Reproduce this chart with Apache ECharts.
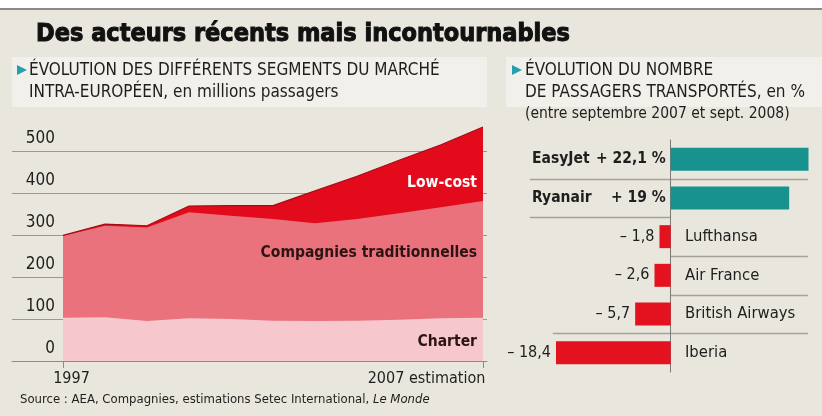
<!DOCTYPE html>
<html>
<head>
<meta charset="utf-8">
<script src="https://cdn.jsdelivr.net/npm/echarts@6/dist/echarts.min.js"></script>
<style>
  html, body { margin: 0; padding: 0; background: #e9e7dd; }
  #chart { width: 822px; height: 416px; }
</style>
</head>
<body>
<div id="chart"></div>
<script>
// left panel : intra-european market, millions of passengers
var years = [1997, 1998, 1999, 2000, 2001, 2002, 2003, 2004, 2005, 2006, 2007];
var charter = [103, 104, 95, 102, 100, 96, 95, 96, 98, 102, 103];
var traditionnelles = [195, 218, 223, 252, 246, 242, 233, 242, 254, 264, 278];
var lowCost = [1, 4, 4, 15, 24, 32, 77, 102, 126, 149, 176];
var segmentNames = ['Charter', 'Compagnies traditionnelles', 'Low-cost'];
var xTickYears = [1997, 2007];
var xTickLabels = ['1997', '2007 estimation'];

// right panel : change in passengers carried, sept 2007 -> sept 2008, %
var airlines = ['EasyJet', 'Ryanair', 'Lufthansa', 'Air France', 'British Airways', 'Iberia'];
var growth = [22.1, 19, -1.8, -2.6, -5.7, -18.4];

var FONT = '"DejaVu Sans Condensed", "Liberation Sans Narrow", "Liberation Sans", sans-serif';
var INK = '#1e1e1e';

function fmt(v) {
    return String(Math.abs(v)).replace('.', ',');
}

var chart = echarts.init(document.getElementById('chart'));

// layers are drawn as cumulative tops, back to front (total first)
var segData = [charter, traditionnelles, lowCost];
var tops = [];
segData.forEach(function (arr, k) {
    tops.push(arr.map(function (v, i) { return (k ? tops[k - 1][i] : 0) + v; }));
});
var areaColors = ['#f6c8ce', '#e9727c', '#e30a1c'];

var series = [2, 1, 0].map(function (k) {
    return {
        name: segmentNames[k],
        type: 'line',
        xAxisIndex: 0,
        yAxisIndex: 0,
        data: tops[k].map(function (v, i) { return [years[i], v]; }),
        symbol: 'none',
        clip: false,
        lineStyle: k === 2 ? { width: 1.2, color: '#a40c16' } : { width: 0 },
        areaStyle: { color: areaColors[k], opacity: 1 }
    };
});

series.push({
    type: 'bar',
    xAxisIndex: 1,
    yAxisIndex: 1,
    data: growth,
    barWidth: 23,
    itemStyle: {
        color: function (p) { return p.value > 0 ? '#17928e' : '#e3121e'; }
    },
    label: {
        show: true,
        position: 'left',
        distance: 5,
        fontFamily: FONT,
        fontSize: 16,
        color: INK,
        formatter: function (p) {
            return p.value > 0 ? '{p|+ ' + fmt(p.value) + ' %}' : '– ' + fmt(p.value);
        },
        rich: { p: { fontFamily: FONT, fontSize: 15.5, fontWeight: 'bold', color: INK } }
    }
});

var option = {
    backgroundColor: '#e9e7dd',
    animation: false,
    grid: [
        { left: 12, top: 151, width: 475, height: 210 },
        { left: 546, top: 140, width: 265, height: 232 }
    ],
    xAxis: [
        {
            gridIndex: 0, type: 'value', min: 1995.7857, max: 2007.0952,
            splitLine: { show: false },
            axisLine: { show: true, lineStyle: { color: '#8d8b85', width: 1 } },
            axisTick: { show: true, customValues: xTickYears, length: 7, lineStyle: { color: '#8d8b85' } },
            axisLabel: {
                customValues: xTickYears,
                margin: 10,
                formatter: function (v) {
                    return v === xTickYears[0] ? '{a|' + xTickLabels[0] + '}' : '{b|' + xTickLabels[1] + '}';
                },
                rich: {
                    a: { fontFamily: FONT, fontSize: 16, color: INK, padding: [0, 0, 0, 17] },
                    b: { fontFamily: FONT, fontSize: 16, color: INK, padding: [0, 113, 0, 0] }
                }
            }
        },
        { gridIndex: 1, type: 'value', min: -20, max: 22.5, show: false }
    ],
    yAxis: [
        {
            gridIndex: 0, type: 'value', min: 0, max: 500, interval: 100,
            axisLine: { show: false },
            axisTick: { show: false },
            splitLine: { lineStyle: { color: '#9a9891', width: 1 } },
            axisLabel: {
                inside: true, margin: 43, align: 'right', verticalAlign: 'bottom',
                lineHeight: 25,
                fontFamily: FONT, fontSize: 17, color: INK
            }
        },
        {
            gridIndex: 1, type: 'category', inverse: true, data: airlines,
            axisLine: { show: true, onZero: true, lineStyle: { color: '#7b7a75' } },
            axisTick: { show: false },
            axisLabel: {
                margin: 14, align: 'left', fontFamily: FONT, fontSize: 15.5, fontWeight: 'bold', color: INK,
                formatter: function (name, i) { return growth[i] > 0 ? name : ''; }
            }
        },
        {
            gridIndex: 1, type: 'category', inverse: true, data: airlines, position: 'left',
            axisLine: { show: false, onZero: false },
            axisTick: { show: false },
            axisLabel: {
                inside: true, margin: 139, align: 'left', fontFamily: FONT, fontSize: 16.5, color: INK,
                formatter: function (name, i) { return growth[i] < 0 ? name : ''; }
            }
        }
    ],
    series: series
};

chart.setOption(option);

// static decoration
var teal = '#2a9db0';
var graphic = [
    { type: 'rect', z: -1, shape: { x: 0, y: 0, width: 822, height: 8 }, style: { fill: '#ffffff' } },
    { type: 'rect', z: -1, shape: { x: 0, y: 8, width: 822, height: 2 }, style: { fill: '#8a8a8a' } },
    { type: 'rect', z: -1, shape: { x: 12, y: 57, width: 475, height: 50 }, style: { fill: '#f2f0ea' } },
    { type: 'rect', z: -1, shape: { x: 506, y: 57, width: 316, height: 50 }, style: { fill: '#f2f0ea' } },
    { type: 'text', x: 36, y: 34, style: {
        text: 'Des acteurs récents mais incontournables',
        font: 'bold 25px "DejaVu Sans Condensed", "Liberation Sans", sans-serif',
        fill: '#111', stroke: '#111', lineWidth: 1, verticalAlign: 'middle'
    } },
    { type: 'polygon', shape: { points: [[17, 65], [27, 70], [17, 75]] }, style: { fill: teal } },
    { type: 'polygon', shape: { points: [[512, 65], [522, 70], [512, 75]] }, style: { fill: teal } },
    { type: 'text', x: 29, y: 71, style: { text: 'ÉVOLUTION DES DIFFÉRENTS SEGMENTS DU MARCHÉ', font: '17px ' + FONT, fill: INK, verticalAlign: 'middle' } },
    { type: 'text', x: 29, y: 93, style: { text: 'INTRA-EUROPÉEN, en millions passagers', font: '17px ' + FONT, fill: INK, verticalAlign: 'middle' } },
    { type: 'text', x: 525, y: 71, style: { text: 'ÉVOLUTION DU NOMBRE', font: '17px ' + FONT, fill: INK, verticalAlign: 'middle' } },
    { type: 'text', x: 525, y: 93, style: { text: 'DE PASSAGERS TRANSPORTÉS, en %', font: '17px ' + FONT, fill: INK, verticalAlign: 'middle' } },
    { type: 'text', x: 525, y: 114, style: { text: '(entre septembre 2007 et sept. 2008)', font: '15.5px ' + FONT, fill: INK, verticalAlign: 'middle' } },
    { type: 'text', x: 20, y: 400, style: {
        text: '{n|Source : AEA, Compagnies, estimations Setec International, }{i|Le Monde}',
        verticalAlign: 'middle',
        rich: {
            n: { font: '13px ' + FONT, fill: INK },
            i: { font: 'italic 13px ' + FONT, fill: INK }
        }
    } }
];

// segment names, anchored to the last point of each layer top
var labelDy = [24, 52, 56];
var labelColor = ['#2a1414', '#2a1414', '#ffffff'];
segData.forEach(function (arr, k) {
    var last = tops[k][tops[k].length - 1];
    var p = chart.convertToPixel({ xAxisIndex: 0, yAxisIndex: 0 }, [years[years.length - 1], last]);
    graphic.push({
        type: 'text', z: 100, x: p[0] - 6, y: p[1] + labelDy[k],
        style: { text: segmentNames[k], font: 'bold 15.5px ' + FONT, fill: labelColor[k], align: 'right', verticalAlign: 'middle' }
    });
});

// row separators in the right panel (partial, on the label side)
var sepSpans = [[-22.6, 22], [-22.6, 0], [0, 22], [0, 22], [-18.9, 22]];
sepSpans.forEach(function (s, i) {
    var a = chart.convertToPixel({ xAxisIndex: 1, yAxisIndex: 1 }, [s[0], i]);
    var b = chart.convertToPixel({ xAxisIndex: 1, yAxisIndex: 1 }, [s[1], i + 1]);
    var y = Math.round((a[1] + b[1]) / 2) + 0.5;
    graphic.push({
        type: 'line', silent: true,
        shape: { x1: a[0], y1: y, x2: b[0], y2: y },
        style: { stroke: '#a3a19a', lineWidth: 1.5 }
    });
});

chart.setOption({ graphic: graphic });
</script>
</body>
</html>
